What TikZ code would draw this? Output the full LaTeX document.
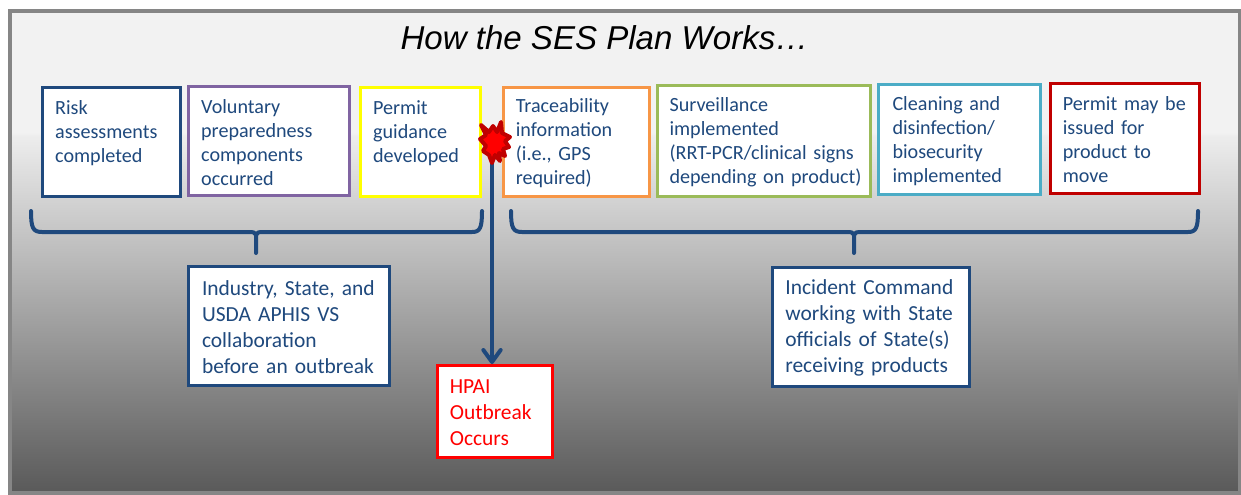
\documentclass[tikz,border=0pt]{standalone}
\usepackage{fontspec}
\setmainfont[WordSpace=0.5]{Carlito}
\newfontfamily\titlefont{Liberation Sans}
\usetikzlibrary{arrows.meta,calc}
\definecolor{navy}{HTML}{1F497D}
\definecolor{purp}{HTML}{8064A2}
\definecolor{yell}{HTML}{FFFF00}
\definecolor{oran}{HTML}{F79646}
\definecolor{gree}{HTML}{9BBB59}
\definecolor{aqua}{HTML}{4BACC6}
\definecolor{dred}{HTML}{C00000}
\definecolor{bord}{HTML}{868686}
\pgfdeclareverticalshading{panelshade}{100bp}{
 color(0bp)=(black!65!white);
 color(25bp)=(black!65!white);
 color(62.1bp)=(black!7!white);
 color(62.4bp)=(black!5!white);
 color(100bp)=(black!5!white)}
\tikzset{
 x=0.75pt,y=-0.75pt,
 infobox/.style={draw,line width=2.25pt,fill=white,anchor=north west,inner sep=0pt,align=left,
   xshift=-0.75pt,yshift=0.75pt,
   execute at end node={\vspace*{-2pt}},
   font=\fontsize{15.1}{18}\selectfont,text=navy,line join=miter},
 lowerbox/.style={infobox,font=\fontsize{16.1}{19.5}\selectfont},
 brace/.style={draw=navy,line width=3pt,line cap=round,line join=round},
 link/.style={draw=navy,line width=3.6pt,-{Straight Barb[length=9pt,width=13pt,line width=3pt,round]}},
}
\begin{document}
\begin{tikzpicture}
\useasboundingbox (0,0) rectangle (1241,494);
\fill[white] (0,0) rectangle (1241,494);
\path[shading=panelshade,draw=bord,line width=2.4pt] (10,11) rectangle (1240,493);
\node[font=\titlefont\itshape\fontsize{24.8}{30}\selectfont,text=black] (title) at (604.5,38) {How the SES Plan Works…};

\node[infobox,draw=navy,minimum width=103.5pt,minimum height=81.5pt,text width=84.5pt] (risk) at (42,87) {Risk\\assessments\\completed\vspace*{15.5pt}};
\node[infobox,draw=purp,minimum width=120.75pt,minimum height=82pt,text width=101.75pt] (vol) at (188,86) {Voluntary\\preparedness\\components\\occurred};
\node[infobox,draw=yell,minimum width=90.25pt,minimum height=81.5pt,text width=71.25pt] (guid) at (360,87) {Permit\\guidance\\developed\vspace*{15.5pt}};
\node[infobox,draw=oran,minimum width=109.75pt,minimum height=82pt,text width=91.25pt] (trace) at (503,87) {Traceability\\information\\(i.e., GPS\\required)};
\node[infobox,draw=gree,minimum width=160pt,minimum height=83pt,text width=142pt] (surv) at (657,85) {Surveillance\\implemented\\\mbox{(RRT-PCR/clinical signs}\\\mbox{depending on product)}};
\node[infobox,draw=aqua,minimum width=121.75pt,minimum height=82.5pt,text width=100.75pt] (clean) at (878,84) {Cleaning and\\disinfection/\\biosecurity\\implemented};
\node[infobox,draw=dred,minimum width=111.75pt,minimum height=82.5pt,text width=93.25pt] (move) at (1050,83) {Permit may be\\issued for\\product to\\move};

\node[lowerbox,draw=navy,minimum width=150.75pt,minimum height=89pt,text width=130.5pt] (ind) at (188,266) {Industry, State, and\\USDA APHIS VS\\collaboration\\before an outbreak};
\node[lowerbox,draw=navy,minimum width=147.75pt,minimum height=89pt,text width=128.5pt] (inc) at (772,267) {Incident Command\\working with State\\officials of State(s)\\receiving products};
\node[lowerbox,draw=red,text=red,minimum width=86pt,minimum height=69pt,text width=67.5pt] (hpai) at (437,365) {HPAI\\Outbreak\\Occurs};

% braces
\path[brace] (31,211) .. controls (31,228) and (33,232) .. (42,232) -- (250,232) .. controls (253,232) and (255,232) .. (256,235) -- (256,253);
\path[brace] (256,235) .. controls (257,232) and (259,232) .. (262,232) -- (472,232) .. controls (480,232) and (482,228) .. (482,211);
\path[brace] (511,211) .. controls (511,228) and (513,232) .. (522,232) -- (848,232) .. controls (851,232) and (853,232) .. (854,235) -- (854,253);
\path[brace] (854,235) .. controls (855,232) and (857,232) .. (860,232) -- (1188,232) .. controls (1196,232) and (1198,228) .. (1198,211);

% connector and burst
\coordinate (burstc) at (492,141);
\draw[link] (burstc) -- (burstc |- hpai.north);
\draw[fill=red,draw=dred,line width=3pt,line join=round]
 (481,125) -- (489,132) -- (493,126) -- (497,132) -- (501,122) -- (502,133) -- (510,137) -- (505,141) -- (509,147) -- (503,149) -- (505,156) -- (499,153) -- (500,161) -- (495,155) -- (492,163) -- (489,155) -- (483,151) -- (486,146) -- (480,139) -- (486,135) -- cycle;
\end{tikzpicture}
\end{document}
